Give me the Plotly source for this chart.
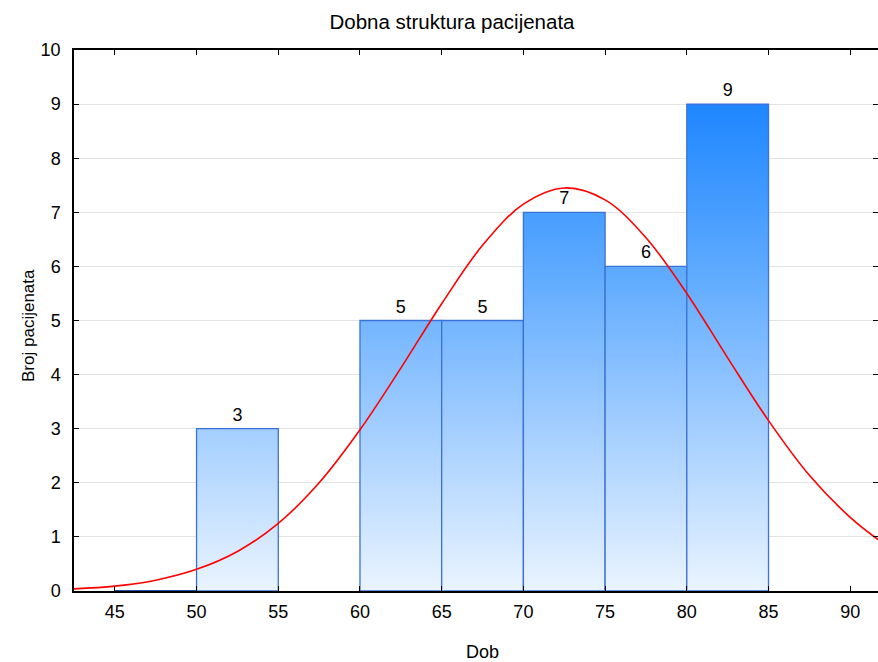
import plotly.graph_objects as go

# Histogram data
bin_left = [45, 50, 55, 60, 65, 70, 75, 80]
bin_width = 5
counts = [0, 3, 0, 5, 5, 7, 6, 9]

# Fitted normal curve
curve_x = [42.5, 45, 47.5, 50, 52.5, 55, 57.5, 60, 62.5, 65, 67.5, 70, 72.5,
           75, 77.5, 80, 82.5, 85, 87.5, 90, 91.7]
curve_y = [0.04, 0.09, 0.20, 0.40, 0.73, 1.25, 2.0, 2.98, 4.12, 5.31, 6.39,
           7.15, 7.45, 7.23, 6.53, 5.5, 4.31, 3.15, 2.14, 1.36, 0.95]

x_ticks = [45, 50, 55, 60, 65, 70, 75, 80, 85, 90]
y_ticks = list(range(0, 11))

title = "Dobna struktura pacijenata"
x_title = "Dob"
y_title = "Broj pacijenata"

FONT = "Liberation Sans, Arial, sans-serif"

fig = go.Figure()

grad = [[0.0, "#EAF4FF"], [0.3, "#A3CEFF"], [0.6, "#5CA9FF"],
        [0.9, "#1E86FF"], [1.0, "#1A7FF8"]]

for left, c in zip(bin_left, counts):
    right = left + bin_width
    if c == 0:
        if left == 45:
            fig.add_trace(go.Scatter(
                x=[left, right], y=[c, c], mode="lines",
                line=dict(color="#1F4FB0", width=2), showlegend=False,
                hoverinfo="skip", cliponaxis=False))
        continue
    fig.add_trace(go.Scatter(
        x=[left, left, right, right, left],
        y=[0, c, c, 0, 0],
        mode="lines", fill="toself",
        fillgradient=dict(type="vertical", colorscale=grad, start=0, stop=10),
        line=dict(color="#3C72D8", width=1.3),
        showlegend=False, hoverinfo="skip"))

# count labels
lab_x = [l + bin_width / 2 for l, c in zip(bin_left, counts) if c > 0]
lab_y = [c for c in counts if c > 0]
fig.add_trace(go.Scatter(
    x=lab_x, y=lab_y, mode="markers+text", text=[str(v) for v in lab_y],
    textposition="top center",
    marker=dict(size=4, opacity=0),
    textfont=dict(family=FONT, size=18, color="black"),
    showlegend=False, hoverinfo="skip", cliponaxis=False))

fig.add_trace(go.Scatter(
    x=curve_x, y=curve_y, mode="lines",
    line=dict(color="#FF0000", width=1.6, shape="spline", smoothing=1.0),
    showlegend=False, hoverinfo="skip"))

fig.update_layout(
    width=878, height=662,
    margin=dict(l=74, r=0, t=50, b=71, autoexpand=False),
    paper_bgcolor="white", plot_bgcolor="white",
    font=dict(family=FONT, size=18, color="black"),
    title=dict(text=title, x=0.5148, xanchor="center", y=0.9668, yanchor="middle",
               font=dict(family=FONT, size=20.5, color="black")),
    xaxis=dict(range=[42.5, 91.7], tickvals=x_ticks, ticks="inside", ticklen=5,
               tickcolor="black", showline=True, linecolor="black", linewidth=1.5,
               mirror="ticks", showgrid=False, zeroline=False, automargin=False,
               tickfont=dict(size=18), ticklabelstandoff=4),
    yaxis=dict(range=[0, 10], tickvals=y_ticks, ticks="inside", ticklen=5,
               tickcolor="black", showline=True, linecolor="black", linewidth=1.5,
               mirror="ticks", showgrid=True, gridcolor="#E3E3E3", gridwidth=1,
               zeroline=False, automargin=False, tickfont=dict(size=18),
               ticklabelstandoff=8),
    annotations=[
        dict(text=x_title, xref="paper", yref="paper", x=0.5075, y=-0.1128,
             xanchor="center", yanchor="middle", showarrow=False,
             font=dict(family=FONT, size=18, color="black")),
        dict(text=y_title, xref="paper", yref="paper", x=-0.056, y=0.4917,
             xanchor="center", yanchor="middle", textangle=-90, showarrow=False,
             font=dict(family=FONT, size=17, color="black")),
    ],
)

fig.write_html(
    "out.html",
    config={"displayModeBar": False},
    post_script="document.body.style.margin='0';document.body.style.overflow='hidden';",
)
